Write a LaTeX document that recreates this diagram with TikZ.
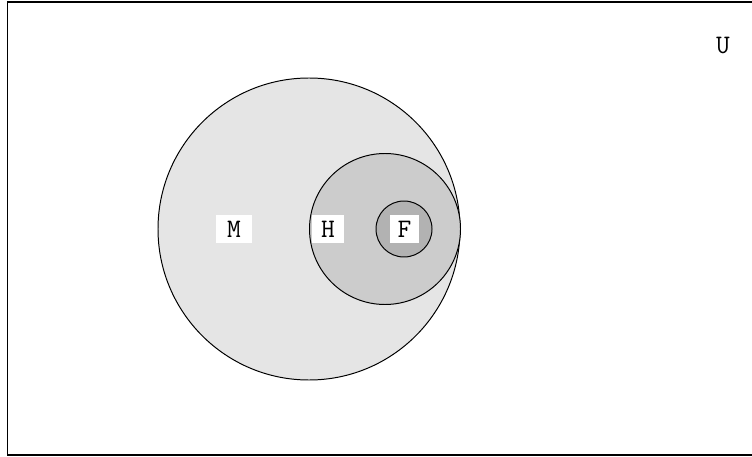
\documentclass[tikz,border=0pt]{standalone}
\usetikzlibrary{positioning}

\begin{document}
\begin{tikzpicture}[
    set/.style={circle, draw, line width=0.7pt, inner sep=0pt},
    setlabel/.style={fill=white, inner sep=0pt, minimum height=0.7cm, font=\fontsize{19}{22}\selectfont\ttfamily}
]
\useasboundingbox (0, 0) rectangle (18.8, 11.4);

% Universe
\draw[line width=1pt] (0.19, 0.025) rectangle (19.2, 11.35);
\node[font=\fontsize{19}{22}\selectfont\ttfamily] (U) at (18.075, 10.25) {U};

% Nested sets
\node[set, fill=black!10, minimum size=7.55cm] (M) at (7.725, 5.675) {};
\node[set, fill=black!20, minimum size=3.775cm] (H) at (9.625, 5.675) {};
\node[set, fill=black!30, minimum size=1.4cm] (F) at (10.1, 5.675) {};

% Labels
\node[setlabel, minimum width=0.9cm] (Mlabel) at (5.85, 5.675) {M};
\node[setlabel, minimum width=0.8cm] (Hlabel) at (8.2, 5.675) {H};
\node[setlabel, minimum width=0.725cm] (Flabel) at (10.11, 5.675) {F};

\end{tikzpicture}
\end{document}
